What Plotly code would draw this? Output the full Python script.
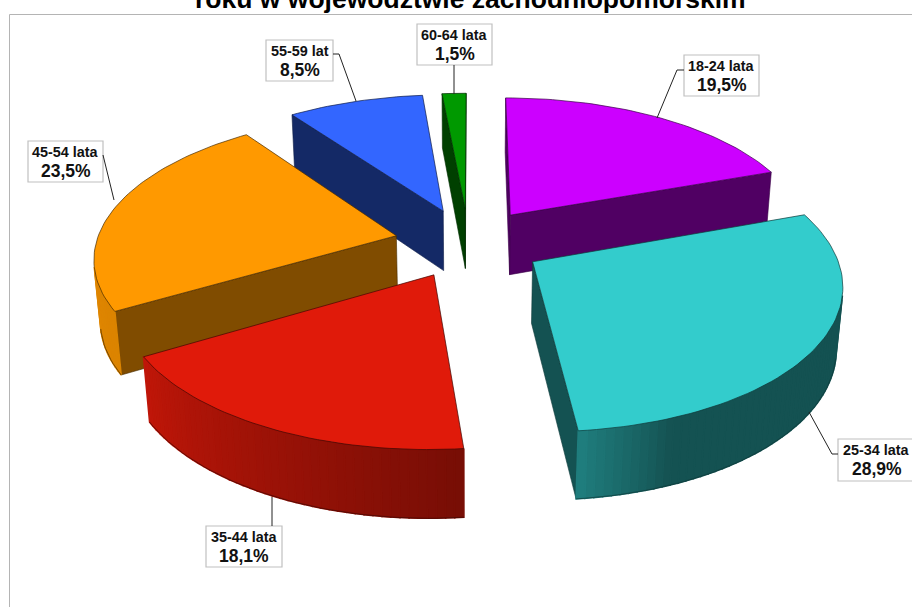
import numpy as np
import plotly.graph_objects as go

# ---- data ----
age_groups = ["18-24 lata", "25-34 lata", "35-44 lata", "45-54 lata", "55-59 lat", "60-64 lata"]
shares = [19.5, 28.9, 18.1, 23.5, 8.5, 1.5]
share_labels = ["19,5%", "28,9%", "18,1%", "23,5%", "8,5%", "1,5%"]
top_colors = ["#cc00ff", "#33cccc", "#e01a0a", "#ff9900", "#3366ff", "#009900"]
title_text = "roku w województwie zachodniopomorskim"

# ---- 3D view of the pie (fitted to the picture) ----
CX, CY, FOCAL, TILT, DIST = 468.6, 242.8, 300.1, 0.4877, 6.36
EXPLODE, HEIGHT, ROT = 0.2477, 0.2331, 0.09
side_factor = [0.39, 0.40, 0.45, 0.50, 0.40, 0.42]
DRAW_ORDER = [5, 4, 0, 3, 2, 1]
CAM_Y, CAM_Z = -DIST * np.cos(TILT), DIST * np.sin(TILT)


def project(X, Y, Z):
    u = Y * np.sin(TILT) + Z * np.cos(TILT)
    w = 1 + (Y * np.cos(TILT) - Z * np.sin(TILT)) / DIST
    return CX + FOCAL * X / w, CY - FOCAL * u / w


def shade(color, f):
    r, g, b = [int(color[i:i + 2], 16) for i in (1, 3, 5)]
    return "#%02x%02x%02x" % (round(r * f), round(g * f), round(b * f))


def wall_factor(deg):
    return np.interp(deg, [0, 158, 174.19, 174.21, 240, 285, 360],
                     [0.4, 0.4, 0.62, 0.53, 0.86, 0.9, 0.4])


def poly(fig, xs, ys, fill, line, width):
    fig.add_trace(go.Scatter(
        x=list(xs) + [xs[0]], y=list(ys) + [ys[0]], mode="lines", fill="toself",
        fillcolor=fill, line=dict(color=line, width=width), hoverinfo="skip", showlegend=False))


def faces_viewer(nx, ny, px, py):
    return nx * (0 - px) + ny * (CAM_Y - py) > 0


fig = go.Figure()
fractions = np.cumsum([0] + shares) / sum(shares) * 360

for i in DRAW_ORDER:
    a0, a1 = fractions[i], fractions[i + 1]
    mid = np.radians((a0 + a1) / 2 + ROT)
    ox, oy = EXPLODE * np.sin(mid), EXPLODE * np.cos(mid)
    degs = np.linspace(a0, a1, max(int((a1 - a0) / 1.5) + 2, 3))
    th = np.radians(degs + ROT)
    rx, ry = ox + np.sin(th), oy + np.cos(th)
    base = top_colors[i]
    dark = shade(base, 0.28)
    face = shade(base, side_factor[i])

    # radial side faces that face the viewer
    for k, sign in ((0, -1), (-1, 1)):
        nx, ny = sign * np.cos(th[k]), -sign * np.sin(th[k])
        if faces_viewer(nx, ny, (ox + rx[k]) / 2, (oy + ry[k]) / 2):
            xs, ys = zip(project(ox, oy, 0), project(rx[k], ry[k], 0),
                         project(rx[k], ry[k], -HEIGHT), project(ox, oy, -HEIGHT))
            poly(fig, xs, ys, face, dark, 0.6)

    # outer wall, in strips to build the shading
    vis = [faces_viewer(np.sin(t), np.cos(t), ox + np.sin(t), oy + np.cos(t)) for t in th]
    idx = [k for k, v in enumerate(vis) if v]
    if len(idx) >= 2:
        for k in idx[:-1]:
            xs, ys = zip(project(rx[k], ry[k], 0), project(rx[k + 1], ry[k + 1], 0),
                         project(rx[k + 1], ry[k + 1], -HEIGHT), project(rx[k], ry[k], -HEIGHT))
            c = shade(base, float(wall_factor((degs[k] + degs[k + 1]) / 2)))
            poly(fig, xs, ys, c, c, 1.6)
        bx, by = project(rx[idx], ry[idx], -HEIGHT + 0 * rx[idx])
        fig.add_trace(go.Scatter(x=bx, y=by, mode="lines", line=dict(color=dark, width=0.7),
                                 hoverinfo="skip", showlegend=False))

    # top face
    tx, ty = project(np.r_[ox, rx], np.r_[oy, ry], 0 * np.r_[ox, rx])
    poly(fig, tx, ty, base, dark, 0.7)

# ---- frame ----
LINE = "#b4b4b4"
shapes = [
    dict(type="line", x0=9.5, x1=9.5, y0=14.5, y1=607, line=dict(color=LINE, width=1)),
    dict(type="line", x0=9.5, x1=912, y0=14.5, y1=14.5, line=dict(color=LINE, width=1)),
]

# ---- data labels: box (l, t, r, b) and leader path ----
boxes = [(684, 55, 759, 96), (838, 439, 915, 481), (206, 526, 282, 567),
         (28, 141, 103, 182), (266, 40, 333, 81), (417, 24, 492, 65)]
leaders = [
    [(684, 70), (677, 70), (657, 118)],
    [(838, 454), (832, 454), (809, 412)],
    [(272, 526), (272, 497)],
    [(103, 155), (114, 200)],
    [(333, 54), (339, 54), (356, 101)],
    [(454, 65), (454, 94)],
]
annotations = [dict(text="<b>%s</b>" % title_text, x=470, y=16, xref="x", yref="y", showarrow=False,
                    xanchor="center", yanchor="bottom",
                    font=dict(family="Liberation Sans", size=26.5, color="#000000"))]
for name, lab, b, path in zip(age_groups, share_labels, boxes, leaders):
    shapes.append(dict(type="rect", x0=b[0], y0=b[1], x1=b[2], y1=b[3], fillcolor="#ffffff",
                       line=dict(color="#c0c0c0", width=1.2), layer="above"))
    d = "M" + " L".join("%g,%g" % p for p in path)
    shapes.append(dict(type="path", path=d, line=dict(color="#222222", width=1), layer="above"))
    cx = (b[0] + b[2]) / 2
    annotations.append(dict(text="<b>%s</b>" % name, x=cx, y=b[1] + 11, xref="x", yref="y", showarrow=False,
                            xanchor="center", yanchor="middle",
                            font=dict(family="Liberation Sans", size=14.4, color="#111111")))
    annotations.append(dict(text="<b>%s</b>" % lab, x=cx, y=b[1] + 30, xref="x", yref="y", showarrow=False,
                            xanchor="center", yanchor="middle",
                            font=dict(family="Liberation Sans", size=17.5, color="#111111")))

fig.update_layout(
    width=912, height=607, autosize=False, margin=dict(l=0, r=0, t=0, b=0),
    paper_bgcolor="#ffffff", plot_bgcolor="#ffffff", showlegend=False,
    xaxis=dict(range=[0, 912], visible=False, fixedrange=True),
    yaxis=dict(range=[607, 0], visible=False, fixedrange=True),
    shapes=shapes, annotations=annotations,
)
fig.write_html("out.html", config={"displayModeBar": False},
               post_script="document.body.style.margin='0';document.body.style.overflow='hidden';")
